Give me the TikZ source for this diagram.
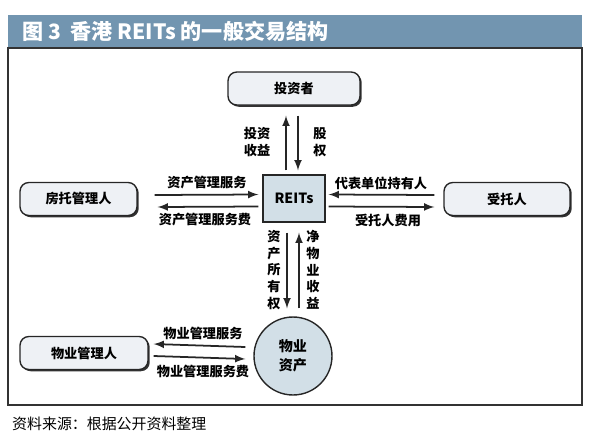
\documentclass[tikz,border=0pt]{standalone}
\usepackage{fontspec}
\setmainfont{Noto Sans CJK SC}
\usetikzlibrary{calc,shadows}
\definecolor{barblue}{HTML}{7295B0}
\definecolor{boxfill}{HTML}{EEF1F5}
\definecolor{keyfill}{HTML}{D2DFE7}
\tikzset{
  party/.style={draw=black!85, line width=0.8pt, rounded corners=5pt, fill=boxfill,
    minimum height=0.66cm, font=\fontsize{7.5}{9}\selectfont\bfseries,
    general shadow={shadow xshift=0.035cm, shadow yshift=-0.035cm, fill=black!80}},
  arr/.style={-latex, line width=1pt, black!85},
  lbl/.style={font=\fontsize{7.5}{9.5}\selectfont\bfseries, inner sep=1pt, align=center}
}
\begin{document}
\begin{tikzpicture}[x=0.02cm, y=-0.02cm]
\useasboundingbox (0,0) rectangle (600,444);
% title bar and frame
\fill[barblue] (8,15) rectangle (582,48);
\node[anchor=west, text=white, font=\fontsize{12}{14}\selectfont\bfseries] (title) at (16,31.5) {图 3\ \ 香港 REITs 的一般交易结构};
\draw[black!80, line width=0.6pt] (8,48) rectangle (582,405);
\node[anchor=west, font=\fontsize{8.5}{10}\selectfont] (src) at (6,424) {资料来源：根据公开资料整理};

% parties
\node[party, minimum width=2.64cm] (inv) at (294,88.5) {投资者};
\node[party, minimum width=2.34cm] (mgr) at (78.5,199) {房托管理人};
\node[party, minimum width=2.52cm] (trs) at (507,199) {受托人};
\node[party, minimum width=2.56cm] (pm) at (84,353) {物业管理人};
\node[draw=black!85, line width=0.8pt, fill=keyfill, minimum width=1.24cm, minimum height=0.94cm,
  font=\fontsize{8}{9}\selectfont\bfseries] (reits) at (294,198.5) {REITs};
\node[circle, draw=black!85, line width=0.8pt, fill=keyfill, minimum size=1.56cm,
  lbl, font=\fontsize{8}{11}\selectfont\bfseries] (prop) at (293,356) {物业\\资产};

% REITs <-> investors
\draw[arr] ($(reits.north)+(-8,-4)$) -- ($(inv.south)+(-8,10)$);
\draw[arr] ($(inv.south)+(4,10)$) -- ($(reits.north)+(4,-4)$);
\node[lbl] (l1) at (257,142) {投资\\收益};
\node[lbl] (l2) at (320,142) {股\\权};

% REITs <-> manager
\draw[arr] ($(mgr.east)+(17,-4)$) -- ($(reits.west)+(-4,-4)$);
\draw[arr] ($(reits.west)+(-4,8)$) -- ($(mgr.east)+(20,8)$);
\node[lbl] (l3) at (207,183) {资产管理服务};
\node[lbl] (l4) at (205,220) {资产管理服务费};

% REITs <-> trustee
\draw[arr] ($(trs.west)+(-9,-4)$) -- ($(reits.east)+(3,-4)$);
\draw[arr] ($(reits.east)+(3,8)$) -- ($(trs.west)+(-9,8)$);
\node[lbl] (l5) at (381,183) {代表单位持有人};
\node[lbl] (l6) at (388,220) {受托人费用};

% REITs <-> property
\draw[arr] ($(reits.south)+(-7,10)$) -- ($(prop.north)+(-6,-8)$);
\draw[arr] ($(prop.north)+(6,-8)$) -- ($(reits.south)+(5,10)$);
\node[lbl] (l7) at (274,270) {资\\产\\所\\有\\权};
\node[lbl] (l8) at (313,270) {净\\物\\业\\收\\益};

% property <-> property manager
\draw[arr] ($(prop.west)+(-8,-9)$) -- ($(pm.east)+(5,-9)$);
\draw[arr] ($(pm.east)+(5,3)$) -- ($(prop.west)+(-8,3)$);
\node[lbl] (l9) at (203,333) {物业管理服务};
\node[lbl] (l10) at (203,371) {物业管理服务费};
\end{tikzpicture}
\end{document}
